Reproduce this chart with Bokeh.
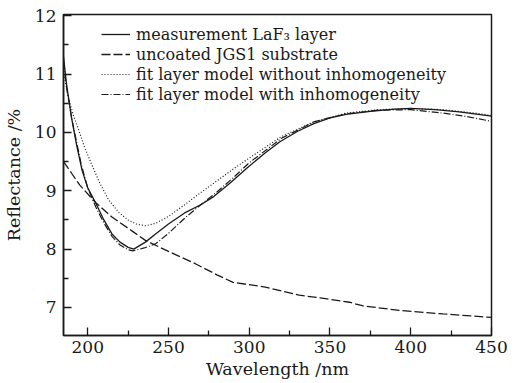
from bokeh.plotting import figure
from bokeh.models import Range1d, Legend, LegendItem, FixedTicker
from bokeh.embed import file_html
from bokeh.resources import INLINE

# Measurement LaF3 layer (solid)
meas_x = [185, 187, 190, 193, 196.5, 200, 204.8, 210, 215, 220, 225, 228.5, 235.7, 242, 250, 260, 270, 278,
          288, 299, 310, 319, 330, 340, 350, 360, 375, 390, 400, 415, 430, 450]
meas_y = [11.3, 10.8, 10.25, 9.8, 9.35, 9.05, 8.8, 8.5, 8.26, 8.12, 8.03, 8.0, 8.12, 8.26, 8.43, 8.62, 8.76, 8.9,
          9.13, 9.4, 9.65, 9.84, 10.02, 10.15, 10.25, 10.31, 10.36, 10.4, 10.41, 10.39, 10.35, 10.28]

# Uncoated JGS1 substrate (dashed)
sub_x = [185, 190, 195, 204.8, 215, 228, 235.7, 250, 266.6, 280, 290, 310, 331, 345, 362, 370, 393, 420, 450]
sub_y = [9.5, 9.3, 9.1, 8.8, 8.55, 8.3, 8.15, 7.96, 7.75, 7.56, 7.43, 7.35, 7.21, 7.16, 7.09, 7.03, 6.95, 6.89, 6.83]

# Fit layer model without inhomogeneity (dotted)
fit1_x = [185, 188, 191, 194.3, 198, 202, 206.8, 212.8, 219.2, 225, 230, 235.7, 242, 250, 260, 270, 280, 290,
          300, 320, 340, 360, 380, 400, 420, 440, 450]
fit1_y = [11.05, 10.6, 10.3, 10.05, 9.75, 9.48, 9.17, 8.85, 8.63, 8.5, 8.43, 8.4, 8.44, 8.56, 8.76, 8.97, 9.17, 9.37,
          9.56, 9.93, 10.18, 10.33, 10.39, 10.41, 10.39, 10.33, 10.29]

# Fit layer model with inhomogeneity (dash-dot)
fit2_x = [185, 187, 190, 196, 200, 205, 210, 215, 220, 225, 228, 235, 242, 250, 260, 270, 280, 290,
          300, 320, 340, 360, 380, 400, 420, 435, 450]
fit2_y = [11.2, 10.75, 10.25, 9.45, 9.05, 8.72, 8.45, 8.22, 8.07, 7.99, 7.97, 8.02, 8.09, 8.27, 8.53, 8.76, 8.98, 9.22,
          9.48, 9.9, 10.18, 10.32, 10.38, 10.39, 10.33, 10.27, 10.19]

labels = ["measurement LaF\u2083 layer", "uncoated JGS1 substrate",
          "fit layer model without inhomogeneity", "fit layer model with inhomogeneity"]

x_ticks = [200, 250, 300, 350, 400, 450]
y_ticks = [7, 8, 9, 10, 11, 12]

FONT = "DejaVu Serif"
INK = "#1a1a1a"

p = figure(width=528, height=383, output_backend="svg", toolbar_location=None,
           x_range=Range1d(185, 450), y_range=Range1d(6.52, 12.02),
           min_border_left=63, min_border_right=37, min_border_top=14, min_border_bottom=48)
p.grid.visible = False
p.background_fill_color = "white"
p.border_fill_color = "white"
p.outline_line_color = INK
p.outline_line_width = 1.5

r1 = p.line(meas_x, meas_y, line_color=INK, line_width=1.3)
r2 = p.line(sub_x, sub_y, line_color=INK, line_width=1.3, line_dash="9 3")
r3 = p.line(fit1_x, fit1_y, line_color=INK, line_width=1.2, line_dash="1 2")
r4 = p.line(fit2_x, fit2_y, line_color=INK, line_width=1.2, line_dash="7 2 1 2")

for ax in (p.xaxis[0], p.yaxis[0]):
    ax.axis_line_color = INK
    ax.axis_line_width = 1.5
    ax.major_tick_in = 8
    ax.major_tick_out = 0
    ax.minor_tick_in = 5
    ax.minor_tick_out = 0
    ax.major_tick_line_color = INK
    ax.minor_tick_line_color = INK
    ax.major_tick_line_width = 1.3
    ax.minor_tick_line_width = 1.3
    ax.major_label_text_font = FONT
    ax.major_label_text_font_size = "17px"
    ax.major_label_text_color = INK
    ax.axis_label_text_font = FONT
    ax.axis_label_text_font_size = "17.5px"
    ax.axis_label_text_font_style = "normal"
    ax.axis_label_text_color = INK

p.xaxis.ticker = FixedTicker(ticks=x_ticks, minor_ticks=[225, 275, 325, 375, 425])
p.yaxis.ticker = FixedTicker(ticks=y_ticks, minor_ticks=[6.5, 7.5, 8.5, 9.5, 10.5, 11.5])
p.xaxis.axis_label = "Wavelength /nm"
p.yaxis.axis_label = "Reflectance /%"
p.xaxis.major_label_standoff = 5
p.yaxis.major_label_standoff = 7
p.xaxis.axis_label_standoff = 3
p.yaxis.axis_label_standoff = 8

legend = Legend(items=[LegendItem(label=labels[0], renderers=[r1]),
                       LegendItem(label=labels[1], renderers=[r2]),
                       LegendItem(label=labels[2], renderers=[r3]),
                       LegendItem(label=labels[3], renderers=[r4])],
                location=(38, 231))
legend.background_fill_alpha = 0
legend.border_line_alpha = 0
legend.padding = 0
legend.margin = 0
legend.spacing = 0
legend.glyph_width = 29
legend.glyph_height = 20
legend.label_height = 20
legend.label_standoff = 6
legend.label_text_font = FONT
legend.label_text_font_size = "16px"
legend.label_text_color = INK
p.add_layout(legend)

open("out.html", "w").write(file_html(p, INLINE))
